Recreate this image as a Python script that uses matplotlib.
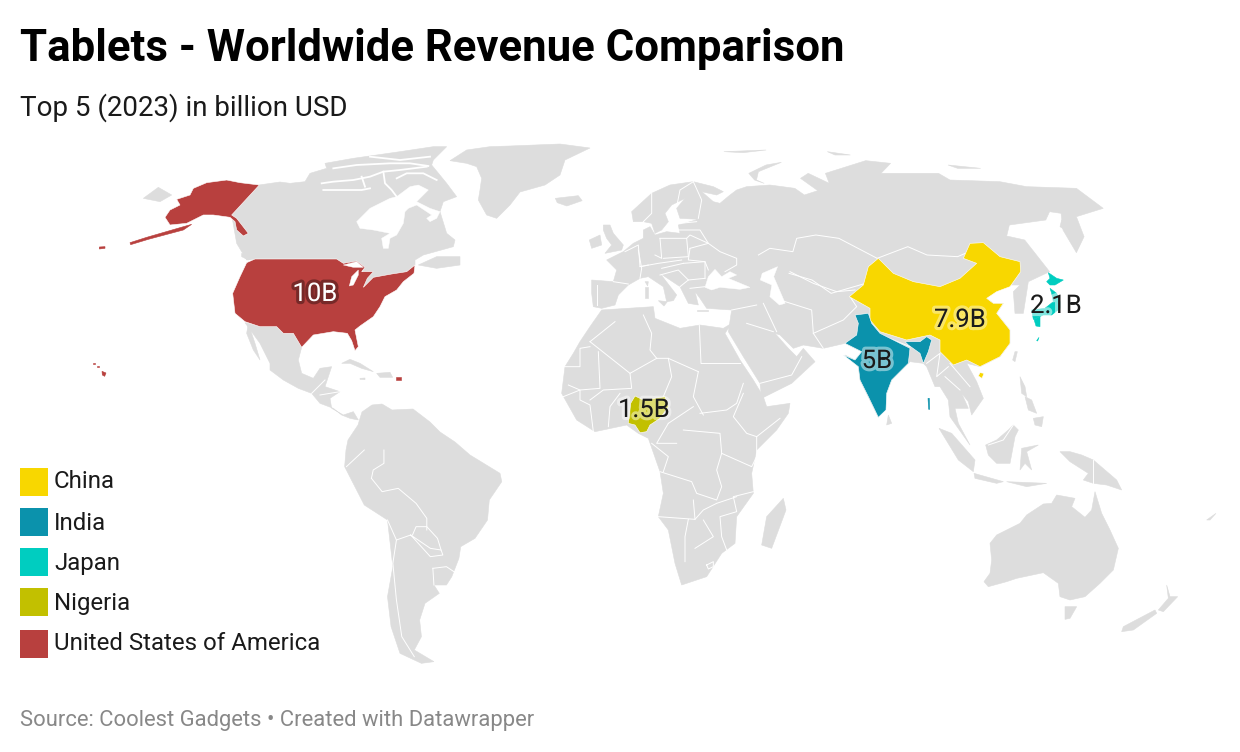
import matplotlib
matplotlib.use("Agg")
import matplotlib.pyplot as plt
import matplotlib.patheffects as pe
from matplotlib.patches import Polygon, Rectangle

# -----------------------------
# Data
# -----------------------------
COUNTRIES = ["China", "India", "Japan", "Nigeria", "United States of America"]
REVENUE = [7.9, 5, 2.1, 1.5, 10]
COLORS = ["#F8D700", "#0B92AC", "#00CDC0", "#C2C000", "#B8403E"]
TITLE = "Tablets - Worldwide Revenue Comparison"
SUBTITLE = "Top 5 (2023) in billion USD"
SOURCE = "Source: Coolest Gadgets \u2022 Created with Datawrapper"
LAND = "#DDDDDD"


def trace(x0, y0, pts, sx=3.0, sy=3.0):
    return [(x0 + x / sx, y0 + y / sy) for x, y in pts]


def nam(pts):
    return trace(80, 130, pts)


def can(pts):
    return trace(290, 140, pts)


def cam(pts):
    return trace(270, 340, pts)


def asia(pts):
    return trace(780, 220, pts)


def afr(pts):
    return trace(540, 290, pts)


def sam(pts):
    return trace(0, 450, pts, sx=2.8)


def eur(pts):
    return trace(540, 130, pts, sx=2.61)


def wes(pts):
    return trace(580, 180, pts)


def jap(pts):
    return trace(1010, 260, pts)


def oce(pts):
    return trace(900, 380, pts)


# -----------------------------
# Outlines
# -----------------------------
USA_SHAPES = [
    nam([(500, 398), (525, 387), (770, 387), (790, 400), (830, 393), (855, 412), (845, 425), (880, 425), (862, 445),
         (850, 472), (880, 442), (935, 432), (980, 425), (1005, 405), (1002, 430), (970, 455), (950, 480), (915, 500),
         (900, 530), (880, 560), (840, 588), (825, 600), (835, 650), (825, 662), (815, 632), (802, 610), (760, 605),
         (700, 615), (665, 652), (640, 610), (610, 610), (590, 590), (540, 590), (495, 575), (465, 550), (458, 490),
         (480, 440)]),
    nam([(538, 165), (455, 255), (470, 265), (505, 310), (490, 318), (470, 300), (465, 275), (450, 262), (400, 255),
         (370, 255), (320, 280), (270, 285), (255, 262), (270, 240), (300, 225), (290, 208), (330, 195), (340, 175),
         (380, 158), (440, 150), (480, 158)]),
    nam([(335, 283), (300, 293), (200, 322), (150, 338), (152, 344), (205, 328), (310, 300)]),
    nam([(58, 351), (75, 350), (75, 355), (58, 357)]),
    nam([(66, 724), (78, 729), (74, 739), (67, 735)]),
    nam([(52, 708), (58, 708), (58, 712), (52, 712)]),
    nam([(38, 698), (44, 698), (44, 702), (38, 702)]),
    nam([(948, 742), (963, 742), (963, 749), (948, 749)]),
]
CHINA_SHAPES = [
    asia([(295, 115), (340, 160), (400, 185), (480, 200), (540, 175), (590, 130), (550, 115), (570, 70), (610, 68),
          (660, 110), (720, 125), (722, 155), (690, 200), (650, 215), (620, 235), (640, 250), (670, 250), (650, 280),
          (690, 330), (690, 370), (660, 410), (600, 440), (560, 420), (520, 435), (480, 395), (480, 360), (450, 345),
          (380, 360), (300, 335), (270, 300), (270, 265), (208, 230), (250, 195), (265, 140)]),
    asia([(600, 458), (612, 460), (606, 475), (595, 468)]),
]
INDIA_SHAPES = [
    asia([(225, 285), (265, 280), (275, 310), (300, 340), (390, 385), (385, 430), (335, 480), (320, 520), (318, 570),
          (295, 592), (265, 530), (240, 480), (235, 440), (190, 405), (225, 420), (245, 395), (195, 370), (230, 345),
          (235, 310)]),
    asia([(375, 365), (420, 365), (440, 350), (455, 360), (445, 395), (430, 430), (420, 400), (385, 375)]),
    asia([(444, 535), (448, 535), (449, 568), (446, 568)]),
]
JAPAN_SHAPES = [
    jap([(115, 38), (140, 55), (160, 60), (135, 75), (120, 75), (110, 65), (120, 55)]),
    jap([(120, 85), (140, 100), (150, 125), (150, 145), (125, 165), (100, 165), (70, 178), (65, 150), (105, 145),
         (130, 125), (125, 100)]),
    jap([(72, 178), (90, 170), (90, 200), (78, 198)]),
    jap([(87, 232), (80, 242), (83, 243)]),
]
NIGERIA_SHAPES = [
    afr([(265, 400), (272, 340), (285, 318), (300, 325), (310, 330), (375, 320), (385, 350), (360, 385), (330, 405),
         (320, 425), (300, 428), (285, 405)]),
]
LAND_SHAPES = [
    # canada
    [(259, 185), (280, 182)]
    + can([(0, 130), (45, 125), (60, 100), (110, 85), (105, 70), (190, 55), (260, 45), (330, 35), (430, 20), (470, 20),
           (430, 60), (425, 75), (470, 130), (500, 170), (460, 185), (450, 215), (470, 280), (495, 300), (490, 320),
           (400, 345), (375, 360)])
    + nam([(1005, 405), (980, 425), (935, 432), (880, 442), (850, 470), (850, 412), (790, 400), (770, 387), (525, 387),
           (500, 390), (470, 340), (455, 255)]),
    can([(385, 375), (440, 350), (510, 350), (510, 375), (440, 385)]),
    nam([(485, 370), (515, 385), (505, 390), (485, 380)]),
    nam([(190, 205), (235, 172), (275, 195), (240, 215)]),
    # greenland
    can([(480, 62), (530, 30), (600, 20), (660, 18)])
    + [(560, 144), (590, 148), (565, 160), (560, 175), (545, 185), (520, 192)]
    + can([(660, 195), (620, 235), (590, 225), (565, 180), (570, 150), (575, 115), (560, 80), (530, 70)]),
    eur([(40, 205), (100, 197), (110, 212), (70, 228), (45, 218)]),
    # mexico and central america
    nam([(495, 578), (540, 590), (590, 590), (610, 610), (640, 610), (665, 652)])
    + cam([(85, 60), (95, 100), (130, 115), (150, 85), (185, 80), (165, 140), (210, 155), (180, 175), (185, 205),
           (220, 225), (250, 215), (265, 240), (240, 235), (215, 225), (190, 205), (150, 190), (125, 160), (85, 145),
           (40, 120), (0, 90)])
    + nam([(570, 700), (540, 640)]),
    nam([(505, 580), (525, 640), (540, 690), (520, 660), (500, 610)]),
    cam([(215, 70), (240, 58), (270, 70), (310, 95), (275, 85), (240, 70)]),
    cam([(320, 100), (360, 97), (368, 112), (330, 112)]),
    cam([(270, 115), (285, 114), (285, 119), (270, 118)]),
    # south america
    [(346, 450), (348, 440), (358, 425), (362, 412), (372, 405), (382, 404), (392, 410), (413, 409), (430, 422),
     (440, 432), (455, 442), (470, 455)]
    + sam([(1400, 70), (1405, 95), (1370, 150), (1365, 210), (1330, 265), (1290, 290), (1285, 325), (1265, 380),
           (1250, 405), (1215, 405), (1230, 430), (1190, 460), (1175, 510), (1180, 560), (1160, 600), (1215, 635),
           (1180, 640), (1120, 610), (1095, 530), (1085, 440), (1100, 350), (1085, 210), (1020, 165), (965, 50)]),
    # africa
    afr([(185, 60), (340, 50), (345, 85), (420, 115), (480, 105), (550, 115), (575, 100), (555, 130), (600, 210),
         (640, 270), (670, 320), (680, 350), (750, 340), (745, 370), (710, 420), (650, 480), (635, 550), (640, 610),
         (590, 680), (585, 760), (545, 790), (500, 860), (425, 885), (405, 820), (385, 720), (355, 680), (370, 610),
         (360, 545), (325, 445), (295, 430), (260, 405), (165, 425), (110, 390), (65, 310), (75, 230), (100, 190),
         (120, 155), (150, 110)]),
    afr([(730, 625), (738, 660), (695, 775), (665, 765), (680, 680)]),
    # eurasia
    wes([(160, 190), (190, 175), (190, 150), (210, 140), (225, 165), (260, 155), (300, 160), (295, 135), (355, 118),
         (300, 115), (290, 85), (315, 55), (275, 75), (255, 100), (265, 125), (245, 150), (225, 160), (215, 130),
         (190, 125), (160, 125), (155, 95), (215, 40), (270, 15), (340, 5), (400, 20), (430, 35), (410, 45), (365, 35),
         (400, 65), (420, 70), (450, 45), (470, 30), (500, 20)])
    + eur([(600, 165), (665, 175), (690, 195), (725, 182), (680, 145), (700, 130), (755, 160), (745, 130), (850, 92),
           (915, 100), (890, 130), (1040, 130), (1070, 150), (1200, 155), (1270, 170), (1400, 175), (1470, 235),
           (1400, 260), (1420, 320), (1400, 368), (1365, 300), (1360, 250), (1330, 245), (1320, 270), (1225, 285),
           (1218, 318), (1265, 330), (1330, 425)])
    + asia([(745, 185), (730, 280), (705, 280), (700, 215), (720, 195), (680, 195), (640, 215), (620, 235), (640, 250),
            (670, 250), (650, 280), (690, 330), (690, 370), (660, 410), (600, 440), (560, 430), (590, 485), (610, 535),
            (575, 585), (565, 545), (545, 520)])
    + oce([(205, 85), (165, 85), (175, 130), (210, 195), (150, 110), (145, 60), (120, 20)])
    + asia([(465, 500), (440, 440), (430, 430), (390, 425), (335, 480), (320, 520), (295, 592), (240, 480), (235, 440),
            (195, 405), (225, 420), (245, 395), (195, 370), (130, 385), (70, 375), (40, 385), (0, 345)])
    + afr([(705, 130), (745, 175), (770, 200), (790, 175), (825, 215), (755, 280), (665, 325), (660, 280), (610, 200),
           (565, 125), (575, 60)])
    + wes([(380, 385), (360, 355), (345, 335), (355, 375), (325, 370), (300, 320), (240, 280), (290, 345), (280, 362),
           (260, 365), (250, 320), (205, 290), (180, 295), (145, 315), (115, 345), (105, 375), (65, 385), (40, 380),
           (35, 340), (35, 300), (100, 305), (110, 270), (80, 240), (130, 215)]),
    wes([(70, 135), (90, 135), (100, 160), (130, 195), (125, 210), (75, 220), (95, 195), (80, 175), (70, 150)]),
    wes([(28, 180), (60, 165), (65, 195), (35, 205)]),
    wes([(195, 320), (205, 320), (205, 355), (195, 355)]),
    wes([(195, 305), (205, 305), (203, 318)]),
    wes([(235, 362), (262, 365), (252, 378)]),
    wes([(350, 390), (385, 390), (385, 394), (350, 394)]),
    eur([(545, 130), (590, 105), (630, 97), (570, 125), (565, 150), (585, 160), (560, 150)]),
    eur([(480, 65), (590, 60), (530, 68)]),
    eur([(750, 65), (810, 75), (770, 75)]),
    eur([(1065, 105), (1150, 115), (1090, 115)]),
    asia([(845, 0), (880, 15), (900, 70), (890, 90), (870, 40), (840, 20)]),
    asia([(325, 585), (335, 610), (320, 615)]),
    asia([(705, 395), (712, 395), (705, 425), (698, 420)]),
    asia([(720, 470), (735, 500), (740, 530), (725, 520)]),
    oce([(400, 115), (430, 110), (425, 140), (405, 135)]),
    oce([(375, 50), (395, 60), (410, 100), (385, 90)]),
    oce([(257, 195), (290, 180), (325, 150), (340, 135), (355, 150), (345, 170), (330, 250), (290, 250), (265, 225)]),
    oce([(365, 205), (415, 195), (380, 215), (395, 270), (375, 250), (360, 270)]),
    oce([(117, 145), (155, 160), (225, 240), (220, 275), (175, 240)]),
    oce([(222, 280), (310, 305), (290, 310), (225, 295)]),
    oce([(320, 305), (440, 310), (380, 320)]),
    oce([(480, 215), (510, 215), (545, 225), (580, 240), (650, 300), (665, 330), (620, 315), (580, 310), (550, 300),
         (565, 280), (510, 245)]),
    oce([(270, 490), (290, 465), (360, 430), (380, 405), (430, 372), (455, 370), (470, 345), (525, 355), (515, 380),
         (555, 412), (575, 390), (585, 335), (605, 400), (630, 450), (655, 505), (640, 570), (600, 610), (555, 650),
         (510, 660), (480, 650), (475, 610), (430, 578), (350, 595), (320, 605), (265, 620), (252, 605), (270, 580),
         (275, 540)]),
    oce([(495, 680), (530, 680), (510, 715), (495, 718)]),
    oce([(800, 615), (810, 650), (833, 650), (790, 695), (775, 690), (805, 655)]),
    oce([(765, 690), (770, 700), (700, 750), (665, 755), (670, 740)]),
    oce([(920, 420), (948, 400), (930, 420)]),
]
WATER_SHAPES = [
    nam([(808, 468), (815, 440), (835, 420), (835, 435), (820, 465)]),
    nam([(790, 405), (830, 395), (850, 412), (820, 412)]),
    # hudson bay and foxe basin
    can([(200, 245), (240, 205), (290, 180), (300, 175), (320, 170), (360, 140), (385, 135), (415, 150), (400, 165),
         (380, 185), (420, 205), (450, 215), (440, 235), (420, 245), (410, 235), (425, 225), (380, 195), (355, 205),
         (345, 215), (340, 250), (320, 285), (300, 295), (295, 325), (280, 325), (275, 295), (300, 280), (250, 270),
         (210, 265)]),
    wes([(375, 322), (385, 290), (405, 268), (425, 290), (450, 275), (470, 285), (445, 295), (510, 322), (480, 328),
         (420, 322), (395, 330)]),
    eur([(580, 430), (620, 410), (610, 440), (640, 520), (625, 525), (600, 500), (605, 465), (575, 450)]),
]
ARCTIC_CHANNELS = [
    can([(95, 130), (130, 125), (190, 120), (240, 110), (280, 95), (330, 90), (410, 80)]),
    can([(100, 150), (150, 150), (215, 150), (240, 145)]),
    can([(130, 85), (200, 75), (300, 70), (360, 70), (415, 78)]),
    can([(280, 95), (285, 130), (305, 150), (320, 170)]),
    can([(320, 115), (350, 100), (400, 100), (440, 120)]),
    can([(240, 50), (330, 60), (420, 50)]),
    can([(215, 110), (225, 140)]),
    can([(495, 325), (420, 345), (385, 365)]),
]
BORDERS = [
    # central and south america
    cam([(125, 160), (165, 120)]),
    cam([(150, 165), (210, 155)]),
    sam([(1040, 85), (1070, 125), (1115, 115), (1165, 160), (1195, 205), (1195, 240)]),
    sam([(1085, 210), (1110, 270), (1100, 340), (1110, 450), (1125, 560), (1160, 620)]),
    sam([(1110, 270), (1150, 255), (1205, 295), (1235, 300), (1240, 315), (1205, 320), (1150, 255)]),
    sam([(1155, 255), (1165, 230), (1195, 230), (1225, 265), (1235, 300)]),
    sam([(1212, 355), (1250, 350), (1285, 375)]),
    sam([(1212, 355), (1215, 405)]),
    sam([(970, 50), (1020, 0)]),
    sam([(1040, 85), (1045, 60), (1075, 40), (1075, 0)]),
    # africa
    afr([(225, 95), (150, 155)]),
    afr([(310, 75), (335, 130), (330, 180), (350, 205)]),
    afr([(150, 155), (270, 250), (350, 205)]),
    afr([(70, 230), (120, 230), (120, 175), (150, 170)]),
    afr([(175, 185), (180, 295), (120, 300), (85, 285)]),
    afr([(270, 250), (275, 295), (190, 300), (150, 330)]),
    afr([(350, 205), (385, 205), (395, 260), (370, 320)]),
    afr([(385, 205), (475, 245)]),
    afr([(478, 105), (483, 220)]),
    afr([(483, 220), (600, 220)]),
    afr([(475, 245), (460, 320), (490, 375)]),
    afr([(385, 400), (460, 350)]),
    afr([(480, 370), (560, 360), (590, 340), (610, 280)]),
    afr([(610, 310), (580, 380), (620, 430), (650, 440), (720, 385)]),
    afr([(430, 420), (540, 430), (545, 490), (530, 540), (545, 590), (530, 630), (470, 610), (455, 575), (360, 545)]),
    afr([(650, 440), (650, 500), (635, 530), (545, 490)]),
    afr([(355, 680), (465, 688), (460, 630)]),
    afr([(465, 688), (490, 660), (530, 640), (590, 620)]),
    afr([(640, 605), (580, 620), (590, 665), (540, 680), (545, 740), (560, 780)]),
    afr([(445, 688), (435, 740), (435, 815)]),
    afr([(490, 690), (520, 740), (465, 775)]),
    afr([(70, 320), (120, 300), (120, 330), (150, 345), (160, 425)]),
    afr([(205, 410), (210, 350), (240, 310)]),
    afr([(385, 400), (350, 460), (410, 460)]),
    afr([(335, 460), (385, 500), (370, 545)]),
    afr([(500, 825), (520, 815), (520, 830), (505, 837), (500, 825)]),
    # europe
    wes([(50, 315), (50, 375)]),
    wes([(100, 305), (145, 312)]),
    wes([(135, 215), (175, 195), (180, 260), (205, 255)]),
    wes([(175, 210), (185, 265), (180, 295)]),
    wes([(240, 175), (245, 235), (225, 225)]),
    wes([(240, 175), (320, 175), (325, 230), (250, 235)]),
    wes([(295, 150), (360, 150), (385, 190)]),
    wes([(300, 130), (350, 125)]),
    wes([(320, 175), (330, 165), (385, 190)]),
    wes([(330, 205), (385, 190), (420, 215), (470, 235), (470, 255), (435, 275)]),
    wes([(330, 205), (325, 240), (375, 245), (385, 270)]),
    wes([(310, 250), (375, 245), (375, 295)]),
    wes([(180, 260), (235, 250), (305, 240)]),
    wes([(245, 265), (310, 250)]),
    wes([(240, 285), (295, 270), (325, 300), (375, 295)]),
    wes([(300, 320), (325, 300)]),
    wes([(330, 325), (375, 320)]),
    wes([(215, 40), (215, 100), (190, 125)]),
    wes([(290, 80), (300, 30), (340, 5)]),
    wes([(340, 5), (365, 60), (355, 115)]),
    # asia
    eur([(570, 375), (600, 355), (660, 365), (670, 325), (720, 315), (780, 325), (880, 385)]),
    eur([(880, 385), (960, 350), (1010, 375), (1090, 380), (1110, 370)]),
    eur([(650, 430), (710, 450), (760, 490), (850, 460)]),
    asia([(30, 155), (100, 190), (170, 215), (225, 210)]),
    asia([(0, 240), (95, 270), (100, 340), (130, 385)]),
    asia([(100, 340), (190, 300), (230, 260), (210, 230)]),
    asia([(290, 340), (390, 380)]),
    asia([(440, 430), (480, 400), (470, 470), (505, 440)]),
    asia([(510, 430), (570, 500)]),
    asia([(495, 470), (540, 510)]),
    afr([(620, 100), (700, 125)]),
    afr([(660, 280), (755, 255), (785, 200)]),
    afr([(575, 60), (650, 45)]),
    afr([(670, 40), (710, 125)]),
    oce([(578, 240), (578, 310)]),
    oce([(265, 195), (310, 180), (340, 135)]),
]

# where each value sits on its country, in picture pixels
LABEL_SPOTS = [(960, 320), (877, 361), (1056, 306), (644, 410), (315, 294)]
LABEL_COLORS = ["#1a1a1a", "#1a1a1a", "#1a1a1a", "#1a1a1a", "#ffffff"]
HALO_COLORS = ["white", "white", "white", "white", "black"]
HALO_ALPHAS = [0.4, 0.45, 0.5, 0.45, 0.35]
SWATCH_TOPS = [468, 508, 548, 588, 630]
LEGEND_BASELINES = [488, 530, 570, 610, 650]

plt.rcParams["font.family"] = ["Roboto", "DejaVu Sans"]

fig = plt.figure(figsize=(12.4, 7.52), dpi=100, facecolor="white")
ax = fig.add_axes([0, 0, 1, 1])
ax.set_xlim(0, 1240)
ax.set_ylim(752, 0)
ax.axis("off")

for shape in LAND_SHAPES:
    ax.add_patch(Polygon(shape, closed=True, facecolor=LAND, edgecolor=LAND, linewidth=0.4, zorder=1))
for line in ARCTIC_CHANNELS:
    ax.plot([p[0] for p in line], [p[1] for p in line], color="white", linewidth=1.3, zorder=2)
for line in BORDERS:
    ax.plot([p[0] for p in line], [p[1] for p in line], color="white", linewidth=0.7, zorder=2)

for shapes, color in zip([CHINA_SHAPES, INDIA_SHAPES, JAPAN_SHAPES, NIGERIA_SHAPES, USA_SHAPES], COLORS):
    for i, shape in enumerate(shapes):
        # a white rim would eat the small islands
        edge = "white" if i < 2 and color != COLORS[2] else color
        ax.add_patch(Polygon(shape, closed=True, facecolor=color, edgecolor=edge, linewidth=0.4, zorder=3))
for shape in WATER_SHAPES:
    ax.add_patch(Polygon(shape, closed=True, facecolor="white", edgecolor="white", linewidth=0.3, zorder=4))

for value, (x, y), color, halo, alpha in zip(REVENUE, LABEL_SPOTS, LABEL_COLORS, HALO_COLORS, HALO_ALPHAS):
    txt = ax.text(x, y, f"{value:g}B", fontsize=18.5, color=color, ha="center", va="center", zorder=6)
    txt.set_path_effects([pe.Stroke(linewidth=4.5, foreground=halo, alpha=alpha), pe.Normal()])

# legend
for name, color, top, base in zip(COUNTRIES, COLORS, SWATCH_TOPS, LEGEND_BASELINES):
    ax.add_patch(Rectangle((20, top), 28, 28, facecolor=color, edgecolor="none", zorder=5))
    ax.text(54, base, name, fontsize=17.3, color="#1a1a1a", ha="left", va="baseline", zorder=5)

ax.text(20, 61, TITLE, fontsize=31.5, fontweight="bold", color="black", ha="left", va="baseline")
ax.text(20, 116, SUBTITLE, fontsize=20, color="#1a1a1a", ha="left", va="baseline")
ax.text(20, 726, SOURCE, fontsize=15.8, color="#888888", ha="left", va="baseline")

fig.savefig("out.png", dpi=100)
